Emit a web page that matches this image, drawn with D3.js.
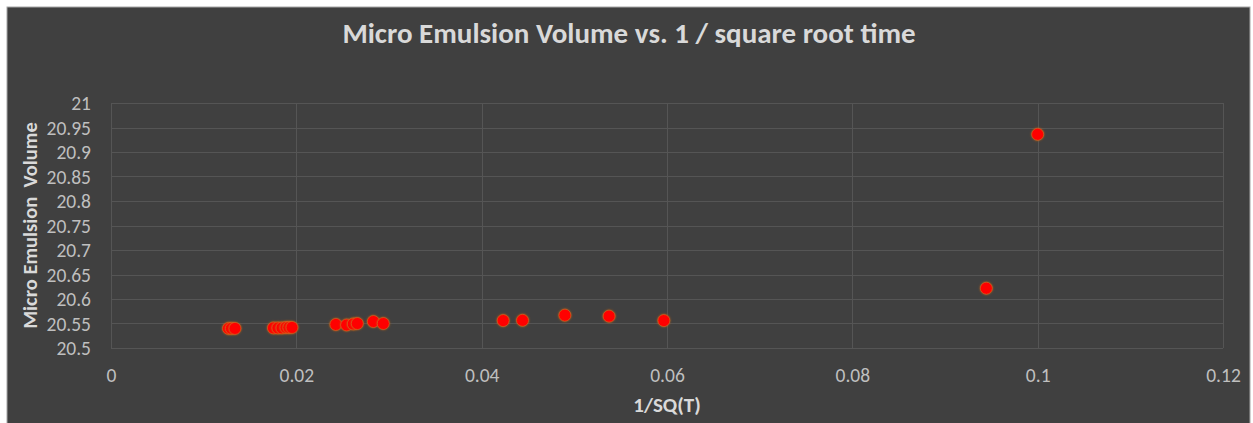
<!DOCTYPE html>
<html>
<head>
<meta charset="utf-8">
<script src="https://cdn.jsdelivr.net/npm/d3@7"></script>
<style>
  html, body { margin: 0; padding: 0; background: #ffffff; }
  svg { display: block; }
  text { font-family: Carlito, Lato, "Open Sans", sans-serif; }
</style>
</head>
<body>
<svg id="chart" width="1253" height="423"></svg>
<script>
const chartTitle = "Micro Emulsion Volume vs. 1 / square root time";
const xAxisTitle = "1/SQ(T)";
const yAxisTitle = "Micro Emulsion  Volume";

const xValues = [0.01268, 0.01300, 0.01338, 0.01753, 0.01801, 0.01845, 0.01888, 0.01920, 0.01953,
                 0.02427, 0.02543, 0.02615, 0.02658, 0.02831, 0.02938,
                 0.04232, 0.04441, 0.04898, 0.05375, 0.05966, 0.09446, 0.1000];
const yValues = [20.540, 20.540, 20.540, 20.541, 20.541, 20.541, 20.542, 20.542, 20.542,
                 20.548, 20.547, 20.549, 20.550, 20.554, 20.550,
                 20.556, 20.5565, 20.567, 20.565, 20.556, 20.622, 20.936];
const xTicks = [0, 0.02, 0.04, 0.06, 0.08, 0.1, 0.12];
const yTicks = [20.5, 20.55, 20.6, 20.65, 20.7, 20.75, 20.8, 20.85, 20.9, 20.95, 21];

const svg = d3.select("#chart");

// chart background
svg.append("rect").attr("x", 7).attr("y", 7).attr("width", 1243).attr("height", 420)
  .attr("fill", "#404040").attr("stroke", "#a6a6a6").attr("stroke-width", 1);

const x = d3.scaleLinear().domain([0, 0.12]).range([111, 1223]);
const y = d3.scaleLinear().domain([20.5, 21]).range([348, 103]);

const gridColor = "#555555";
svg.append("g").selectAll("line").data(yTicks).join("line")
  .attr("x1", x(0)).attr("x2", x(0.12))
  .attr("y1", d => Math.round(y(d)) + 0.5).attr("y2", d => Math.round(y(d)) + 0.5)
  .attr("stroke", gridColor).attr("stroke-width", 1);
svg.append("g").selectAll("line").data(xTicks).join("line")
  .attr("y1", y(21)).attr("y2", y(20.5))
  .attr("x1", d => Math.round(x(d)) + 0.5).attr("x2", d => Math.round(x(d)) + 0.5)
  .attr("stroke", gridColor).attr("stroke-width", 1);

const tickColor = "#bfbfbf";
const yAxis = d3.axisLeft(y).tickValues(yTicks).tickSize(0).tickPadding(0)
  .tickFormat(d => d3.format("")(+d.toFixed(2)));
const gy = svg.append("g").attr("transform", `translate(${91},0)`).call(yAxis);
gy.select(".domain").remove();
gy.selectAll("text").attr("fill", tickColor).style("font-size", "19.5px")
  .style("font-family", "Carlito, Lato, sans-serif").attr("dy", "0.35em");

const xAxis = d3.axisBottom(x).tickValues(xTicks).tickSize(0).tickPadding(0)
  .tickFormat(d => d3.format("")(+d.toFixed(2)));
const gx = svg.append("g").attr("transform", `translate(0,${375})`).call(xAxis);
gx.select(".domain").remove();
gx.selectAll("text").attr("fill", tickColor).style("font-size", "19.5px")
  .style("font-family", "Carlito, Lato, sans-serif").attr("dy", "0.35em");

const defs = svg.append("defs");
const f = defs.append("filter").attr("id", "glow").attr("x", "-50%").attr("y", "-50%")
  .attr("width", "200%").attr("height", "200%");
f.append("feGaussianBlur").attr("in", "SourceAlpha").attr("stdDeviation", 1.2).attr("result", "b");
f.append("feFlood").attr("flood-color", "#c8641a").attr("flood-opacity", 0.9).attr("result", "c");
f.append("feComposite").attr("in", "c").attr("in2", "b").attr("operator", "in").attr("result", "g");
const fm = f.append("feMerge");
fm.append("feMergeNode").attr("in", "g");
fm.append("feMergeNode").attr("in", "SourceGraphic");

const pts = xValues.map((v, i) => ({ x: v, y: yValues[i] }));
svg.append("g").selectAll("circle").data(pts).join("circle")
  .attr("cx", d => x(d.x)).attr("cy", d => y(d.y)).attr("r", 6)
  .attr("fill", "#ff0000").attr("stroke", "#d2691e").attr("stroke-opacity", 0.6)
  .attr("stroke-width", 1).attr("filter", "url(#glow)");

svg.append("text").attr("x", 629).attr("y", 43).attr("text-anchor", "middle")
  .attr("fill", "#d9d9d9").style("font-size", "29px").style("font-weight", "bold")
  .text(chartTitle);

svg.append("text").attr("x", (x(0) + x(0.12)) / 2).attr("y", 405).attr("dy", "0.35em")
  .attr("text-anchor", "middle").attr("fill", "#d9d9d9")
  .style("font-size", "21px").style("font-weight", "bold").text(xAxisTitle);

svg.append("text").attr("transform", `translate(30,${(y(20.5) + y(21)) / 2}) rotate(-90)`)
  .attr("dy", "0.35em").attr("text-anchor", "middle").attr("fill", "#d9d9d9")
  .attr("xml:space", "preserve").style("white-space", "pre")
  .style("font-size", "20.5px").style("font-weight", "bold").text(yAxisTitle);
</script>
</body>
</html>
